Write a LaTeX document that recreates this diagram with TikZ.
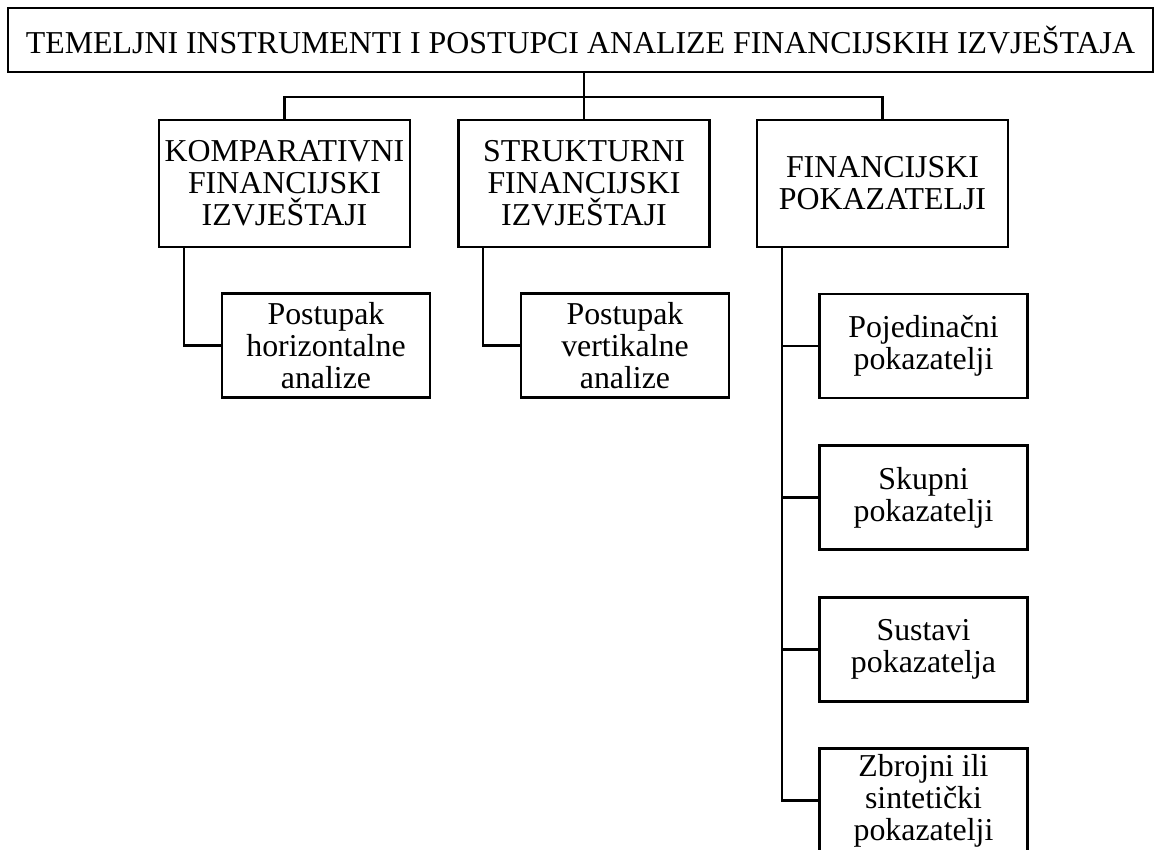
\documentclass[tikz,border=0pt]{standalone}
\usepackage{fontspec}
\setmainfont{Liberation Serif}
\usepackage{tikz}
\tikzset{
	block/.style    = {draw, line width=1.8pt, rectangle, align=center,
		inner sep=1pt,
		font=\fontsize{23.9pt}{24pt}\selectfont},
	mainBlock/.style = {block, minimum width=188.25pt, minimum height=95.25pt},
	subBlock/.style  = {block, minimum width=156pt, minimum height=78pt},
	link/.style     = {line width=1.8pt},
}

\begin{document}
\begin{tikzpicture}[ x=0.75pt,                     %<--one pixel of the reference
                     y=-0.75pt,                    %<--y runs downwards
                     ]
    \useasboundingbox (0,0) rectangle (1154,850);
    \clip (0,0) rectangle (1154,850);

    %-- Blocks creation --%
    \draw
      % TOP LEVEL %
      node(title) at (580.5,40) [block, minimum width=858.75pt, minimum height=48pt]
        {TEMELJNI INSTRUMENTI I POSTUPCI ANALIZE FINANCIJSKIH IZVJE\v{S}TAJA}
      node[shape=coordinate][](bar) at (583,97){}
    ;
    \draw
      % INSTRUMENTS %
      node(compFin) at (284.5,183.5) [mainBlock] {KOMPARATIVNI\\FINANCIJSKI\\IZVJE\v{S}TAJI}
      node(strucFin) at (584,183.5) [mainBlock] {STRUKTURNI\\FINANCIJSKI\\IZVJE\v{S}TAJI}
      node(finInd) at (882.5,183.5) [mainBlock] {FINANCIJSKI\\POKAZATELJI}

      node[shape=coordinate][](compTap) at (184,247){}
      node[shape=coordinate][](strucTap) at (483,247){}
      node[shape=coordinate][](finTap) at (782,247){}
    ;
    \draw
      % PROCEDURES %
      node(horAnal) at (326,345.5) [subBlock] {Postupak\\horizontalne\\analize}
      node(vertAnal) at (625,345.5) [subBlock] {Postupak\\vertikalne\\analize}
    ;
    \draw
      % INDICATORS %
      node(indSingle) at (923.5,346) [subBlock] {Pojedina\v{c}ni\\pokazatelji}
      node(indGroup) at (923.5,497.5) [subBlock] {Skupni\\pokazatelji}
      node(indSystem) at (923.5,649.5) [subBlock] {Sustavi\\pokazatelja}
      node(indSynth) at (923.5,800.5) [subBlock] {Zbrojni ili\\sinteti\v{c}ki\\pokazatelji}
    ;

    %-- Block linking --%
    % TOP LEVEL %
    \draw[link] (strucFin.north) -- (strucFin.north |- title.south);
    \draw[link] (compFin.north)  |- (bar) -| (finInd.north);

    % PROCEDURES %
    \draw[link] (compTap)        |- (horAnal.west);
    \draw[link] (strucTap)       |- (vertAnal.west);

    % INDICATORS %
    \draw[link] (finTap)         |- (indSingle.west);
    \draw[link] (finTap)         |- (indGroup.west);
    \draw[link] (finTap)         |- (indSystem.west);
    \draw[link] (finTap)         |- (indSynth.west);

\end{tikzpicture}
\end{document}
